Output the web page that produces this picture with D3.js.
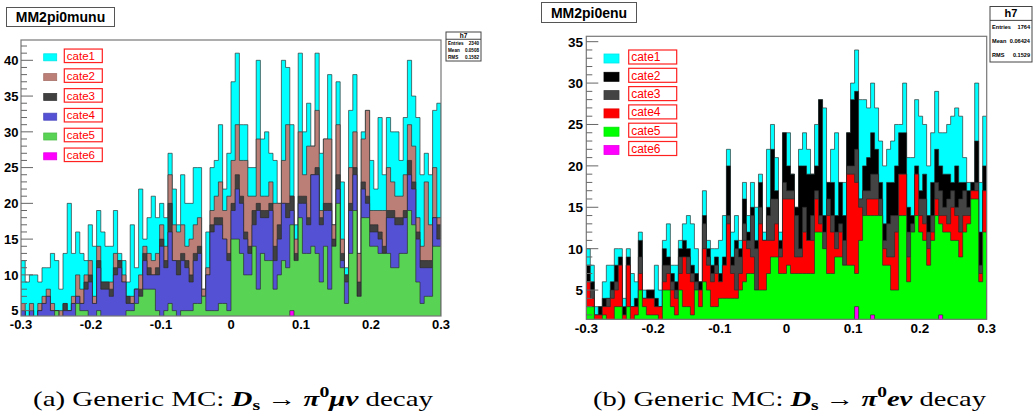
<!DOCTYPE html>
<html><head><meta charset="utf-8">
<script src="https://cdn.jsdelivr.net/npm/d3@7"></script>
<style>body{margin:0;background:#fff}svg{display:block}</style>
</head><body>
<svg id="c" width="1036" height="415"></svg>
<script>
// ---------- DATA ----------
const binLo = -0.3, binHi = 0.3, nBins = 100;
const xTickValues = [-0.3, -0.2, -0.1, 0, 0.1, 0.2, 0.3];
const xTickLabels = ["-0.3", "-0.2", "-0.1", "0", "0.1", "0.2", "0.3"];
const muYTicks = [5, 10, 15, 20, 25, 30, 35, 40];
const eYTicks = [5, 10, 15, 20, 25, 30, 35];
const categories = ["cate1", "cate2", "cate3", "cate4", "cate5", "cate6"];

// Left: MM2pi0munu — stacked (cumulative) heights as drawn by THStack
const muCate1 = [12,9,10,10,9,11,11,13,12,8, 13,20,13,16,13,12,17,14,19,16, 14,14,19,13,12,9,17,11,22,15, 18,21,18,20,18,27,22,17,24,20, 20,25,25,8,16,25,26,31,22,27, 37,41,31,31,25,25,40,29,30,27, 26,20,40,39,31,17,41,30,34,28, 41,27,29,38,17,37,23,11,33,38, 13,30,33,26,22,32,24,32,30,30, 26,32,40,35,32,24,27,24,33,34];
const muCate2 = [6,4,6,4,6,7,8,6,5,5, 6,5,7,10,8,10,12,7,14,9, 9,9,13,12,10,7,7,8,10,14, 13,12,13,17,14,24,17,16,17,14, 15,17,18,8,11,19,21,23,19,21, 26,31,26,26,21,21,29,21,21,23, 20,20,26,31,21,15,30,24,28,28, 33,19,29,29,17,31,15,10,25,30, 13,29,33,19,19,19,19,25,23,21, 21,24,31,28,18,14,23,17,25,18];
const muCate3 = [5,4,5,4,5,6,7,5,5,4, 6,5,6,7,6,9,10,6,12,9, 9,8,11,12,9,7,6,8,8,13, 11,10,11,15,12,20,12,12,13,12, 10,13,14,7,10,17,18,18,15,13, 20,24,21,16,14,19,20,19,19,20, 14,17,20,20,21,13,21,21,18,24, 25,18,20,20,15,24,13,10,20,25, 9,23,21,17,17,16,14,19,19,18, 18,19,26,23,16,12,12,12,18,17];
const muCate4 = [5,4,5,4,5,6,7,5,5,4, 5,5,6,7,6,8,9,6,11,8, 8,7,10,11,9,6,6,8,7,12, 10,10,10,14,11,16,12,10,12,11, 9,12,13,7,10,16,17,17,15,12, 19,22,20,15,13,17,19,18,18,19, 12,15,20,18,19,12,20,20,17,24, 24,17,19,19,14,22,12,9,19,24, 7,22,20,16,16,15,13,18,18,17, 17,18,24,22,15,11,11,11,18,15];
const muCate5 = [3,3,2,2,3,3,3,4,5,3, 3,3,3,6,5,5,4,3,5,4, 4,4,4,4,4,5,5,6,7,8, 8,8,5,4,5,6,5,4,5,5, 5,6,6,7,5,5,5,6,6,5, 15,15,13,10,10,14,8,13,12,12, 8,10,12,11,17,12,18,13,13,14, 13,9,14,8,14,20,11,6,13,19, 7,18,18,14,14,13,13,13,11,11, 13,13,19,17,9,6,7,7,14,14];
const muCate6 = [0,0,0,0,0,0,0,0,0,0, 0,0,0,0,0,0,0,0,0,0, 0,0,0,0,0,0,0,0,0,0, 0,0,0,0,0,0,0,0,0,0, 0,0,0,0,0,0,0,0,0,0, 0,0,0,0,0,0,0,0,0,0, 0,0,0,0,5,0,0,0,0,0, 0,0,0,0,0,0,0,0,0,0, 0,0,0,0,0,0,0,0,0,0, 0,0,0,0,0,0,0,0,0,0];

// Right: MM2pi0enu — stacked (cumulative) heights
const eCate1 = [10,8,3,3,6,8,8,10,10,4, 10,7,6,12,5,5,5,8,5,11, 13,8,8,11,13,14,13,10,6,17, 11,10,10,11,14,22,12,14,11,18, 14,18,15,19,12,22,25,21,12,24, 24,19,15,22,24,22,19,25,28,27, 18,22,24,18,18,24,30,34,28,28, 27,30,27,23,20,22,23,25,25,30, 21,21,28,26,25,20,24,29,24,24, 25,26,27,26,21,18,18,30,18,26];
const eCate2 = [8,6,2,3,4,4,6,8,9,3, 9,3,4,11,4,5,5,4,3,10, 9,7,6,10,11,10,8,7,6,14, 10,8,9,7,9,20,9,11,10,16, 12,15,11,18,11,15,22,17,11,24, 20,19,15,20,20,19,19,20,28,14, 18,18,14,18,14,24,28,29,16,20, 21,24,22,18,13,18,18,20,24,24, 15,14,20,17,19,14,18,22,20,19, 19,18,20,18,18,17,18,23,12,20];
const eCate3 = [6,5,2,2,3,4,5,6,8,2, 8,3,3,9,4,4,4,3,3,8, 8,6,5,9,9,9,7,6,5,13, 9,7,8,6,8,14,8,10,9,13, 11,14,10,15,11,14,16,16,10,18, 17,17,14,10,15,11,14,17,14,12, 16,14,12,13,11,20,20,22,16,17, 17,19,19,16,11,13,14,14,19,19, 12,13,19,16,16,12,14,18,17,15, 16,17,15,16,17,15,17,18,8,17];
const eCate4 = [6,4,2,2,3,3,4,5,8,2, 8,3,3,7,4,4,4,3,3,6, 7,5,4,7,9,7,6,5,5,10, 8,6,7,6,8,13,7,5,7,11, 10,9,5,13,11,11,11,13,9,16, 16,16,9,9,12,11,11,16,13,10, 14,12,10,12,8,19,19,18,15,14, 16,16,16,14,10,9,9,12,19,19, 9,12,19,14,13,10,12,16,14,14, 13,15,14,12,14,14,17,17,7,17];
const eCate5 = [3,3,1,1,2,1,1,3,3,1, 3,1,2,5,3,2,2,2,1,5, 5,3,2,5,3,3,2,5,3,6, 5,3,3,4,4,4,4,4,5,6, 7,7,5,5,5,7,9,9,7,7, 8,7,7,7,7,7,7,12,12,10, 7,7,9,9,8,8,8,7,11,14, 14,14,14,14,8,8,5,5,14,14, 6,12,14,12,11,8,11,14,13,12, 12,11,11,9,12,13,16,16,6,12];
const eCate6 = [0,0,0,0,0,0,0,0,0,0, 0,0,0,0,0,0,0,0,0,0, 0,0,0,0,0,0,0,0,0,0, 0,0,0,0,0,0,0,0,0,0, 0,0,0,0,0,0,0,0,0,0, 0,0,0,0,0,0,0,0,0,0, 0,0,0,0,0,0,0,3,0,0, 0,2,0,0,0,0,0,0,0,0, 0,0,0,0,0,0,0,0,2,0, 0,0,0,0,0,0,0,0,0,0];

const muStats = [["Entries", "2340"], ["Mean", "0.0508"], ["RMS", "0.1582"]];
const eStats = [["Entries", "1764"], ["Mean", "0.06424"], ["RMS", "0.1529"]];

// ---------- STYLE / LAYOUT ----------
const muColors = ["#00ffff", "#bc7f77", "#404040", "#5451d4", "#59d354", "#ff00ff"];
const eColors  = ["#00ffff", "#000000", "#444444", "#ff0000", "#00ff00", "#ff00ff"];
const svg = d3.select("#c");
const sans = "'Liberation Sans', Arial, Helvetica, sans-serif";

const panels = [
  { id: "mu", title: "MM2pi0munu", series: [muCate1, muCate2, muCate3, muCate4, muCate5, muCate6], colors: muColors,
    x0: 21, x1: 441, y0: 40, y1: 316, yDom: [4.25, 42.84], yTicks: muYTicks,
    titleBox: [6.5, 7.5, 108, 19], titleSize: 14,
    legend: { sx: 43.7, sw: 13, sh: 7, top: 57.3, step: 19.8, bx: 64.3, bw: 38, bh: 13.5, fs: 11.5 },
    stats: muStats, statsBox: [446, 32, 35, 29], statsFs: 4.6, hFs: 6.5, ylabX: 18.5, ylabFs: 13, xlabY: 329 },
  { id: "e", title: "MM2pi0enu", series: [eCate1, eCate2, eCate3, eCate4, eCate5, eCate6], colors: eColors,
    x0: 586.3, x1: 986.7, y0: 36.3, y1: 319.3, yDom: [1.47, 35.65], yTicks: eYTicks,
    titleBox: [541.5, 2.5, 95, 20], titleSize: 14,
    legend: { sx: 604, sw: 15, sh: 9, top: 58.5, step: 18.3, bx: 628.7, bw: 48, bh: 14, fs: 12 },
    stats: eStats, statsBox: [990, 6.5, 42, 55.5], statsFs: 5.6, hFs: 11, ylabX: 583, ylabFs: 13.5, xlabY: 333 }
];

const binW = (binHi - binLo) / nBins;

panels.forEach(p => {
  const g = svg.append("g");
  const xs = d3.scaleLinear().domain([binLo, binHi]).range([p.x0, p.x1]);
  const ys = d3.scaleLinear().domain(p.yDom).range([p.y1, p.y0]);

  const clipId = "clip-" + p.id;
  svg.append("defs").append("clipPath").attr("id", clipId)
    .append("rect").attr("x", p.x0).attr("y", p.y0).attr("width", p.x1 - p.x0).attr("height", p.y1 - p.y0);

  // histograms (cumulative layers, largest first)
  const hg = g.append("g").attr("clip-path", `url(#${clipId})`);
  const area = d3.area()
    .x(d => xs(d[0]))
    .y0(ys(p.yDom[0]) + 2)
    .y1(d => ys(Math.max(d[1], p.yDom[0] - 0.3)))
    .curve(d3.curveStepAfter);
  p.series.forEach((vals, k) => {
    const pts = d3.range(nBins + 1).map(i => [binLo + i * binW, vals[Math.min(i, nBins - 1)]]);
    hg.append("path").datum(pts)
      .attr("d", area)
      .attr("fill", p.colors[k])
      .attr("stroke", "#2a2a2a").attr("stroke-opacity", 0.65).attr("stroke-width", 1);
  });

  // frame
  g.append("rect").attr("x", p.x0).attr("y", p.y0).attr("width", p.x1 - p.x0).attr("height", p.y1 - p.y0)
    .attr("fill", "none").attr("stroke", "#777").attr("stroke-width", 1.2);

  // y axis ticks (ROOT style: inside the frame)
  const minor = d3.range(Math.ceil(p.yDom[0]), Math.floor(p.yDom[1]) + 1);
  g.selectAll(null).data(minor).join("line")
    .attr("x1", p.x0).attr("x2", d => p.x0 + (d % 5 === 0 ? 12 : 6))
    .attr("y1", d => ys(d)).attr("y2", d => ys(d))
    .attr("stroke", "#666").attr("stroke-width", 1);
  g.selectAll(null).data(p.yTicks).join("text")
    .attr("x", p.ylabX).attr("y", d => ys(d)).attr("dy", "0.36em")
    .attr("text-anchor", "end").attr("font-family", sans).attr("font-weight", "bold")
    .attr("font-size", p.ylabFs).text(d => d);

  // x axis labels
  g.selectAll(null).data(xTickValues).join("text")
    .attr("x", d => xs(d)).attr("y", p.xlabY)
    .attr("text-anchor", "middle").attr("font-family", sans).attr("font-weight", "bold")
    .attr("font-size", p.ylabFs).text((d, i) => xTickLabels[i]);

  // title box
  const [tx, ty, tw, th] = p.titleBox;
  g.append("rect").attr("x", tx).attr("y", ty).attr("width", tw).attr("height", th)
    .attr("fill", "#fff").attr("stroke", "#555").attr("stroke-width", 1);
  g.append("text").attr("x", tx + tw / 2).attr("y", ty + th / 2).attr("dy", "0.36em")
    .attr("text-anchor", "middle").attr("font-family", sans).attr("font-weight", "bold")
    .attr("font-size", p.titleSize).text(p.title);

  // legend
  const L = p.legend;
  categories.forEach((c, k) => {
    const cy = L.top + k * L.step;
    g.append("rect").attr("x", L.sx).attr("y", cy - L.sh / 2).attr("width", L.sw).attr("height", L.sh)
      .attr("fill", p.colors[k]).attr("stroke", d3.color(p.colors[k]).darker(0.3)).attr("stroke-width", 0.8);
    g.append("rect").attr("x", L.bx).attr("y", cy - L.bh / 2 - 1.5).attr("width", L.bw).attr("height", L.bh)
      .attr("fill", "#fff").attr("stroke", "#ff2020").attr("stroke-width", 1.2);
    g.append("text").attr("x", L.bx + 2.5).attr("y", cy - 1.5).attr("dy", "0.36em")
      .attr("font-family", sans).attr("font-size", L.fs).attr("fill", "#ff0000").text(c);
  });

  // stats box
  const [sx, sy, sw, sh] = p.statsBox;
  g.append("rect").attr("x", sx).attr("y", sy).attr("width", sw).attr("height", sh)
    .attr("fill", "#fff").attr("stroke", "#444").attr("stroke-width", 1);
  const hh = sh * 0.25;
  g.append("line").attr("x1", sx).attr("x2", sx + sw).attr("y1", sy + hh).attr("y2", sy + hh)
    .attr("stroke", "#444").attr("stroke-width", 1);
  g.append("text").attr("x", sx + sw / 2).attr("y", sy + hh / 2).attr("dy", "0.36em")
    .attr("text-anchor", "middle").attr("font-family", sans).attr("font-weight", "bold")
    .attr("font-size", p.hFs).text("h7");
  const rowH = (sh - hh) / p.stats.length;
  p.stats.forEach(([k, v], i) => {
    const ry = sy + hh + rowH * (i + 0.5);
    g.append("text").attr("x", sx + 2).attr("y", ry).attr("dy", "0.36em")
      .attr("font-family", sans).attr("font-weight", "bold").attr("font-size", p.statsFs).text(k);
    g.append("text").attr("x", sx + sw - 2).attr("y", ry).attr("dy", "0.36em").attr("text-anchor", "end")
      .attr("font-family", sans).attr("font-weight", "bold").attr("font-size", p.statsFs).text(v);
  });
});

// captions
function caption(x, width, letter, lepton) {
  const t = svg.append("text").attr("x", x).attr("y", 406)
    .attr("font-family", "'Liberation Serif', 'DejaVu Serif', serif").attr("font-size", 22)
    .attr("textLength", width).attr("lengthAdjust", "spacingAndGlyphs");
  t.append("tspan").text(`(${letter}) Generic MC: `);
  t.append("tspan").attr("font-weight", "bold").attr("font-style", "italic").text("D");
  t.append("tspan").attr("font-weight", "bold").attr("font-size", 15).attr("dy", 4).text("s");
  t.append("tspan").attr("dy", -4).text(" \u2192 ");
  t.append("tspan").attr("font-weight", "bold").attr("font-style", "italic").text("\u03C0");
  t.append("tspan").attr("font-weight", "bold").attr("font-size", 15).attr("dy", -9).text("0");
  t.append("tspan").attr("dy", 9).attr("font-weight", "bold").attr("font-style", "italic").text(lepton);
  t.append("tspan").text(" decay");
}
caption(33, 400, "a", "\u03BC\u03BD");
caption(593, 393, "b", "e\u03BD");
</script>
</body></html>
